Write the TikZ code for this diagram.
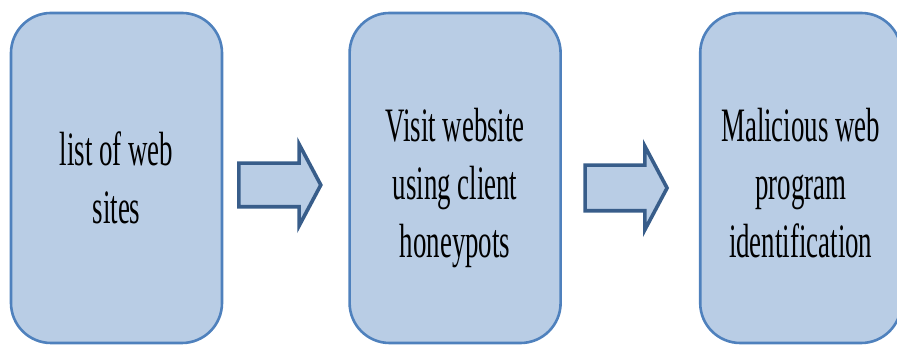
\documentclass[tikz,border=0pt]{standalone}
\usepackage{fontspec}
\setmainfont{Liberation Serif}
\newfontfamily\boxfont{Liberation Serif}[FakeStretch=0.56]
\usetikzlibrary{shapes.arrows, positioning}
\definecolor{boxFill}{RGB}{185,205,229}
\definecolor{boxLine}{RGB}{79,129,189}
\definecolor{arrLine}{RGB}{56,93,138}

\begin{document}
\begin{tikzpicture}[
        x=0.5pt, y=0.5pt,
        box/.style={draw=boxLine, line width=1.3pt, rounded corners=20pt, fill=boxFill, minimum width=105.5pt, minimum height=165pt, inner sep=0pt, align=center, font=\boxfont\fontsize{24}{29}\selectfont},
        bigarr/.style={single arrow, draw=arrLine, line width=1.8pt, fill=boxFill, minimum height=41pt, inner xsep=0pt, inner ysep=10pt, single arrow head extend=9.5pt, single arrow tip angle=124}
    ]
    \useasboundingbox (0,0) rectangle (897,346);
    \clip (0,0) rectangle (897,346);

    \node[box] (sites) at (116.5,168) {list of web\\sites};
    \node[box, right=62.5pt of sites] (visit) {\rule{0pt}{26.4pt}Visit website\\using client\\honeypots};
    \node[box, right=68.5pt of visit, minimum width=100.5pt] (malic) {\rule{0pt}{21.4pt}Malicious web\\program\\identification};

    \node[bigarr] (arrA) at (274,161) {};
    \node[bigarr, inner ysep=10.5pt] (arrB) at (620,158) {};
\end{tikzpicture}
\end{document}
